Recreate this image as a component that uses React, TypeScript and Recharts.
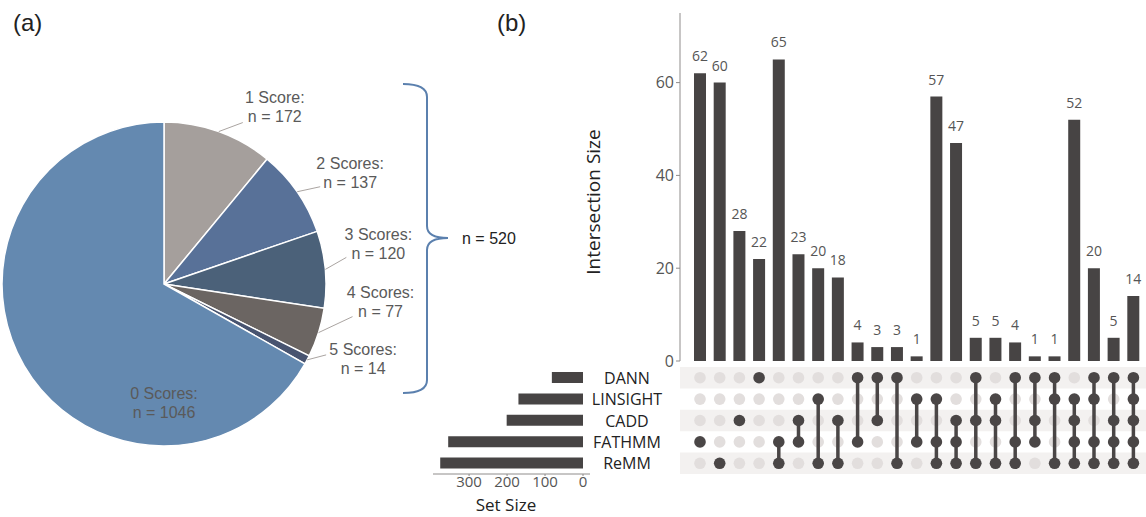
import React from 'react';
import {
  PieChart,
  Pie,
  Cell,
  BarChart,
  Bar,
  XAxis,
  YAxis,
  LabelList,
  ScatterChart,
  Scatter,
  ReferenceArea,
} from 'recharts';

const W = 1146;
const H = 517;

// panel (a)
const PIE_NAMES = ['1 Score', '2 Scores', '3 Scores', '4 Scores', '5 Scores', '0 Scores'];
const PIE_COUNTS = [172, 137, 120, 77, 14, 1046];
const PIE_COLORS = ['#a59f9c', '#587198', '#4b6179', '#6b6562', '#485470', '#6489b0'];
const SCORED_TOTAL = 520;

// panel (b)
const SETS = ['DANN', 'LINSIGHT', 'CADD', 'FATHMM', 'ReMM'];
const SET_SIZES = [82, 170, 201, 355, 376];
const SET_SIZE_TICKS = [0, 100, 200, 300];

const INTERSECTION_SIZES = [62, 60, 28, 22, 65, 23, 20, 18, 4, 3, 3, 1, 57, 47, 5, 5, 4, 1, 1, 52, 20, 5, 14];
const INTERSECTION_MEMBERS = [
  [3], [4], [2], [0], [3, 4], [2, 3], [1, 4], [2, 4], [0, 3], [0, 2], [0, 4], [1, 3],
  [1, 3, 4], [2, 3, 4], [0, 2, 4], [1, 2, 4], [0, 3, 4], [0, 2, 3], [0, 1, 4],
  [1, 2, 3, 4], [0, 1, 3, 4], [0, 2, 3, 4], [0, 1, 2, 3, 4],
];
const INTERSECTION_TICKS = [0, 20, 40, 60];

const pieData = PIE_NAMES.map((name, i) => ({ name, value: PIE_COUNTS[i] }));
const barData = INTERSECTION_SIZES.map((size, i) => ({ id: i, size }));
const setData = SETS.map((name, i) => ({ name, size: SET_SIZES[i] }));

const inactiveDots = INTERSECTION_MEMBERS.flatMap((members, i) =>
  SETS.map((_, r) => r).filter((r) => !members.includes(r)).map((r) => ({ x: i, y: r }))
);
const activeDots = INTERSECTION_MEMBERS.map((members, i) => members.map((r) => ({ x: i, y: r })));

const DARK = '#474444';
const AXIS = '#8f8c8b';
const SANS = '"Liberation Sans", Arial, sans-serif';
const UPSET_FONT = '"Open Sans", sans-serif';

// label layout for the outside pie labels (leader end offset, text offset)
const LEADER = [[24, -9], [23, -5], [21, -12], [34, -16], [19, -5]];
const TEXT_DX = [32, 30, 32, 28, 37];
const LINE_DY = [[-26, -7], [-24, -5], [-23, -4], [-25, -6], [-6, 13]];

const RAD = Math.PI / 180;

const renderPieLabel = (p: any) => {
  const { cx, cy, midAngle, outerRadius, index } = p;
  const name = PIE_NAMES[index];
  const value = PIE_COUNTS[index];
  const style = { fontFamily: SANS, fontSize: 16, fill: '#5a5a5a' };
  if (index === PIE_NAMES.length - 1) {
    const y = cy + outerRadius * 0.73;
    return (
      <g key={`l${index}`}>
        <text x={cx} y={y - 9.5 + 6} textAnchor="middle" style={style}>{name}:</text>
        <text x={cx} y={y + 9.5 + 6} textAnchor="middle" style={style}>n = {value}</text>
      </g>
    );
  }
  const sx = cx + outerRadius * Math.cos(-midAngle * RAD);
  const sy = cy + outerRadius * Math.sin(-midAngle * RAD);
  const ex = sx + LEADER[index][0];
  const ey = sy + LEADER[index][1];
  const tx = ex + TEXT_DX[index];
  return (
    <g key={`l${index}`}>
      <line x1={sx} y1={sy} x2={ex} y2={ey} stroke="#aaa4a1" strokeWidth={1} />
      <text x={tx} y={ey + LINE_DY[index][0] + 6} textAnchor="middle" style={style}>{name}:</text>
      <text x={tx} y={ey + LINE_DY[index][1] + 6} textAnchor="middle" style={style}>n = {value}</text>
    </g>
  );
};

const dot = (fill: string) => (p: any) => <circle cx={p.cx} cy={p.cy} r={5.8} fill={fill} />;

const renderSetName = (p: any) => (
  <text x={p.x + 29} y={p.y} textAnchor="middle" dominantBaseline="central"
    style={{ fontFamily: UPSET_FONT, fontSize: 16, fill: '#222' }}>
    {p.payload.value}
  </text>
);

const layer: React.CSSProperties = { position: 'absolute', left: 0, top: 0 };

export default function App() {
  return (
    <div style={{ position: 'absolute', left: 0, top: 0, width: W, height: H, background: '#fff', overflow: 'hidden' }}>
      <div style={layer}>
        <PieChart width={W} height={H} margin={{ top: 0, right: 0, bottom: 0, left: 0 }}>
          <Pie
            data={pieData}
            dataKey="value"
            nameKey="name"
            cx={164}
            cy={284}
            outerRadius={162}
            startAngle={90}
            endAngle={-270}
            stroke="#ffffff"
            strokeWidth={1.5}
            label={renderPieLabel}
            labelLine={false}
            isAnimationActive={false}
          >
            {pieData.map((d, i) => (
              <Cell key={d.name} fill={PIE_COLORS[i]} />
            ))}
          </Pie>
        </PieChart>
      </div>

      <div style={layer}>
        <BarChart width={W} height={H} data={barData} margin={{ top: 13, right: 0, bottom: 156, left: 0 }} barSize={12}>
          <XAxis dataKey="id" type="category" tick={false} tickLine={false} axisLine={{ stroke: AXIS }} height={0} padding={{ left: 10, right: 3 }} />
          <YAxis
            width={680}
            domain={[0, 75]}
            ticks={INTERSECTION_TICKS}
            tickSize={4}
            axisLine={{ stroke: AXIS }}
            tickLine={{ stroke: AXIS }}
            tick={{ fontSize: 16, fill: '#555', fontFamily: UPSET_FONT }}
          />
          <Bar dataKey="size" fill={DARK} isAnimationActive={false}>
            <LabelList dataKey="size" position="top" offset={12} fontSize={14} fill="#555" fontFamily={UPSET_FONT} />
          </Bar>
        </BarChart>
      </div>

      <div style={layer}>
        <BarChart layout="vertical" width={W} height={H} data={setData} margin={{ top: 367, right: 0, bottom: 13, left: 433 }} barSize={11}>
          <XAxis
            type="number"
            domain={[0, 395]}
            reversed
            ticks={SET_SIZE_TICKS}
            padding={{ left: 0, right: 7 }}
            height={30}
            tickSize={2}
            tickMargin={0}
            axisLine={{ stroke: AXIS }}
            tickLine={{ stroke: AXIS }}
            tick={{ fontSize: 15, fill: '#555', fontFamily: UPSET_FONT }}
          />
          <YAxis type="category" dataKey="name" orientation="right" width={556} interval={0} axisLine={false} tickLine={false} tick={renderSetName} />
          <Bar dataKey="size" fill={DARK} isAnimationActive={false} />
        </BarChart>
      </div>

      <div style={layer}>
        <ScatterChart width={W} height={H} margin={{ top: 367, right: 0, bottom: 43, left: 680 }}>
          <XAxis type="number" dataKey="x" domain={[-1.015, 22.64]} allowDataOverflow hide />
          <YAxis type="number" dataKey="y" domain={[-0.5, 4.5]} reversed allowDataOverflow hide />
          {SETS.map((s, r) =>
            r % 2 === 0 ? (
              <ReferenceArea key={s} x1={-1.015} x2={22.64} y1={r - 0.5} y2={r + 0.5} fill="#f3f1f0" fillOpacity={1} stroke="none" ifOverflow="visible" />
            ) : null
          )}
          <Scatter data={inactiveDots} shape={dot('#e2dedd')} isAnimationActive={false} />
          {activeDots.map((pts, i) => (
            <Scatter key={i} data={pts} line={{ stroke: '#4a4646', strokeWidth: 3.5 }} shape={dot('#4a4646')} isAnimationActive={false} />
          ))}
        </ScatterChart>
      </div>

      <svg style={{ ...layer, pointerEvents: 'none' }} width={W} height={H}>
        <text x={13} y={31} style={{ fontFamily: SANS, fontSize: 24, fill: '#222' }}>(a)</text>
        <text x={497} y={31} style={{ fontFamily: SANS, fontSize: 24, fill: '#222' }}>(b)</text>
        <path
          d="M403,84 Q427,84 427,97 L427,226 Q427,238 448,238 Q427,238 427,250 L427,380 Q427,393 403,393"
          fill="none"
          stroke="#5b80ae"
          strokeWidth={2}
        />
        <text x={462} y={244} style={{ fontFamily: SANS, fontSize: 16, fill: '#222' }}>n = {SCORED_TOTAL}</text>
        <text x={593} y={202} transform="rotate(-90 593 202)" textAnchor="middle" dominantBaseline="central"
          style={{ fontFamily: UPSET_FONT, fontSize: 19, fill: '#222' }}>
          Intersection Size
        </text>
        <text x={506} y={511} textAnchor="middle" style={{ fontFamily: UPSET_FONT, fontSize: 17, fill: '#222' }}>
          Set Size
        </text>
      </svg>
    </div>
  );
}
